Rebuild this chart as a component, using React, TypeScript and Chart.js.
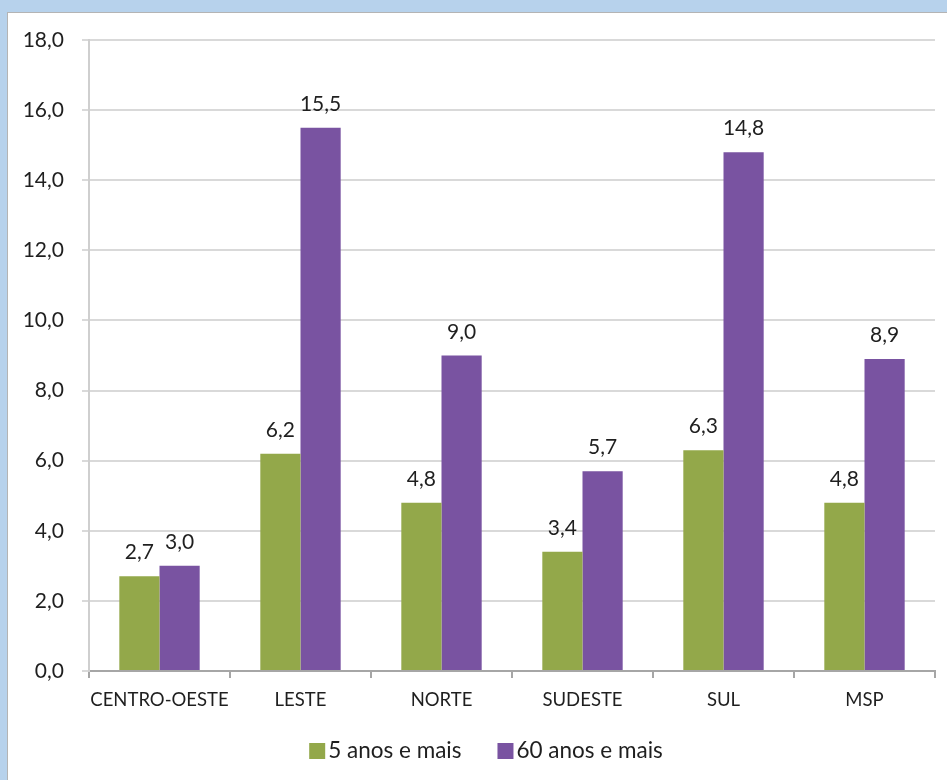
import React, { useEffect, useRef } from "react";
import { Chart, registerables } from "chart.js";

Chart.register(...registerables);

// Regions and the two age groups
const categories = ["CENTRO-OESTE", "LESTE", "NORTE", "SUDESTE", "SUL", "MSP"];
const seriesNames = ["5 anos e mais", "60 anos e mais"];
const cincoAnos = [2.7, 6.2, 4.8, 3.4, 6.3, 4.8];
const sessentaAnos = [3.0, 15.5, 9.0, 5.7, 14.8, 8.9];
const yMin = 0;
const yMax = 18;
const yStep = 2;

const GREEN = "#93A84A";
const PURPLE = "#7953A1";
const TEXT = "#1F1F1F";
const FONT = "Lato, 'Open Sans', sans-serif";

const fmt = (v: number) => v.toFixed(1).replace(".", ",");

// Draws each bar's value above it
const valueLabels = {
  id: "valueLabels",
  afterDatasetsDraw(chart: any) {
    const ctx = chart.ctx;
    ctx.save();
    ctx.font = `21px ${FONT}`;
    ctx.fillStyle = TEXT;
    ctx.textAlign = "center";
    ctx.textBaseline = "alphabetic";
    chart.data.datasets.forEach((ds: any, i: number) => {
      chart.getDatasetMeta(i).data.forEach((bar: any, j: number) => {
        ctx.fillText(fmt(ds.data[j]), bar.x, bar.y - 17);
      });
    });
    ctx.restore();
  },
};

// Legend row under the axis: square swatch followed closely by its label
const bottomLegend = {
  id: "bottomLegend",
  afterDraw(chart: any) {
    const ctx = chart.ctx;
    ctx.save();
    ctx.font = `22.5px ${FONT}`;
    const box = 16;
    const gapText = 3;
    const gapItem = 36;
    const items = chart.data.datasets.map((ds: any) => ({
      label: ds.label,
      color: ds.backgroundColor,
      w: box + gapText + ctx.measureText(ds.label).width,
    }));
    const total =
      items.reduce((a: number, it: any) => a + it.w, 0) + gapItem * (items.length - 1);
    const cx = (chart.chartArea.left + chart.chartArea.right) / 2 - 26;
    const cy = 751;
    let x = cx - total / 2;
    ctx.textBaseline = "middle";
    ctx.textAlign = "left";
    items.forEach((it: any) => {
      ctx.fillStyle = it.color;
      ctx.fillRect(x, cy - box / 2, box, box);
      ctx.fillStyle = TEXT;
      ctx.fillText(it.label, x + box + gapText, cy);
      x += it.w + gapItem;
    });
    ctx.restore();
  },
};

export default function App() {
  const ref = useRef<HTMLCanvasElement>(null);

  useEffect(() => {
    if (!ref.current) return;
    const chart = new Chart(ref.current, {
      type: "bar",
      data: {
        labels: categories,
        datasets: [
          {
            label: seriesNames[0],
            data: cincoAnos,
            backgroundColor: GREEN,
            categoryPercentage: 0.57,
            barPercentage: 1.0,
          },
          {
            label: seriesNames[1],
            data: sessentaAnos,
            backgroundColor: PURPLE,
            categoryPercentage: 0.57,
            barPercentage: 1.0,
          },
        ],
      },
      options: {
        responsive: false,
        animation: false,
        devicePixelRatio: 1,
        layout: { padding: { top: 40, right: 12, bottom: 48, left: 0 } },
        plugins: {
          tooltip: { enabled: false },
          legend: { display: false },
        },
        scales: {
          x: {
            afterFit: (s: any) => {
              s.height = 61;
            },
            grid: {
              display: true,
              drawOnChartArea: false,
              drawTicks: true,
              tickLength: 7,
              color: "#A6A6A6",
              lineWidth: 2,
              offset: true,
            },
            border: { color: "#A6A6A6", width: 2 },
            ticks: {
              color: TEXT,
              font: { family: FONT, size: 18.5 },
              padding: 11,
              maxRotation: 0,
              minRotation: 0,
              autoSkip: false,
            },
          },
          y: {
            min: yMin,
            max: yMax,
            afterFit: (s: any) => {
              s.width = 89;
            },
            ticks: {
              stepSize: yStep,
              color: TEXT,
              font: { family: FONT, size: 21 },
              padding: 18,
              callback: (v: any) => fmt(Number(v)),
            },
            grid: {
              color: "#D9D9D9",
              lineWidth: 2,
              drawTicks: true,
              tickLength: 7,
            },
            border: { color: "#CFCFCF", width: 2 },
          },
        },
      },
      plugins: [valueLabels, bottomLegend],
    });
    return () => chart.destroy();
  }, []);

  return (
    <div
      style={{
        position: "fixed",
        left: 0,
        top: 0,
        width: 947,
        height: 780,
        background: "#B7D2EC",
        overflow: "hidden",
      }}
    >
      <div
        style={{
          position: "absolute",
          left: 7,
          top: 12,
          right: 0,
          bottom: 0,
          background: "#FFFFFF",
          borderLeft: "1px solid #B4B4B4",
          borderTop: "1px solid #B4B4B4",
        }}
      />
      <canvas
        ref={ref}
        width={947}
        height={780}
        style={{ position: "absolute", left: 0, top: 0, width: 947, height: 780 }}
      />
    </div>
  );
}
